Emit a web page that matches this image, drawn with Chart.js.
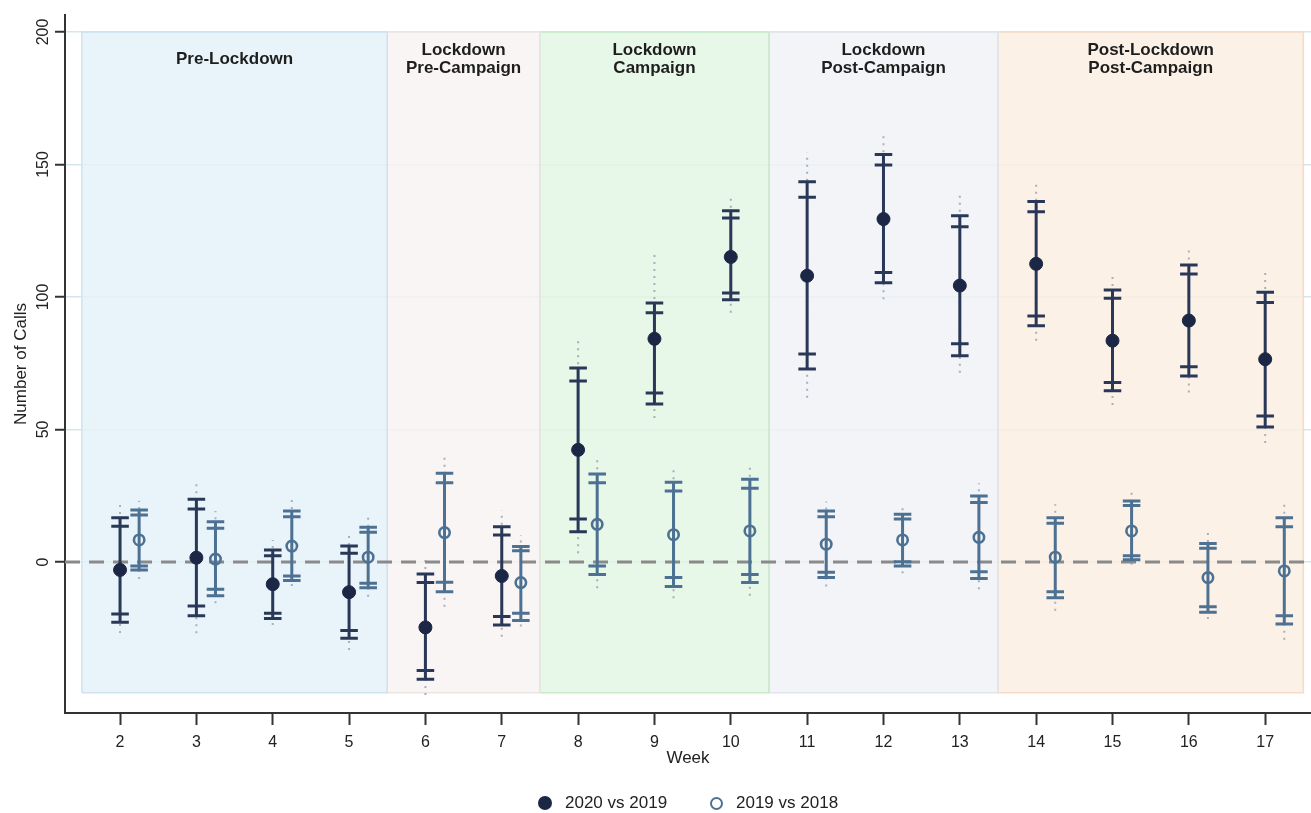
<!DOCTYPE html>
<html>
<head>
<meta charset="utf-8">
<script src="https://cdn.jsdelivr.net/npm/chart.js@4.4.1/dist/chart.umd.min.js"></script>
<style>
  html, body { margin: 0; padding: 0; background: #fff; }
  #wrap { position: relative; width: 1311px; height: 813px; }
  #legend { position: absolute; top: 792px; left: 0; width: 1311px; height: 22px;
            font: 17px "Liberation Sans", Arial, sans-serif; color: #222; }
  .item { position: absolute; top: 0; display: flex; align-items: center; height: 22px; }
  .dot { display: inline-block; box-sizing: border-box; border-radius: 50%; margin-right: 13px; }
</style>
</head>
<body>
<div id="wrap">
  <canvas id="chart" width="1311" height="813"></canvas>
  <div id="legend">
    <div class="item" style="left:538px"><span class="dot" style="width:14px;height:14px;background:#1b2745"></span>2020 vs 2019</div>
    <div class="item" style="left:710px"><span class="dot" style="width:13px;height:13px;border:2.5px solid #4d7193"></span>2019 vs 2018</div>
  </div>
</div>
<script>
// weeks on the x axis
const weeks = [2, 3, 4, 5, 6, 7, 8, 9, 10, 11, 12, 13, 14, 15, 16, 17];
const yTicks = [0, 50, 100, 150, 200];

// 2020 vs 2019 (filled markers)
const est2020 = [-3.0, 1.6, -8.4, -11.4, -24.7, -5.3, 42.3, 84.2, 115.1, 108.0, 129.4, 104.3, 112.5, 83.5, 91.1, 76.5];
const lo95_2020 = [-22.8, -20.3, -21.3, -28.8, -44.3, -23.8, 11.4, 59.6, 98.9, 72.8, 105.4, 77.8, 89.1, 64.6, 70.2, 50.9];
const hi95_2020 = [16.7, 23.7, 4.5, 6.0, -4.5, 13.3, 73.2, 97.7, 132.5, 143.5, 153.8, 130.6, 136.0, 102.6, 112.1, 101.8];
const lo90_2020 = [-19.6, -16.6, -19.4, -25.9, -41.0, -20.6, 16.2, 63.8, 101.5, 78.5, 109.2, 82.3, 92.8, 67.7, 73.7, 55.1];
const hi90_2020 = [13.5, 20.0, 2.3, 3.3, -7.8, 10.2, 68.3, 94.0, 129.8, 137.6, 149.8, 126.5, 132.2, 99.5, 108.7, 97.9];
const lo99_2020 = [-26.8, -26.9, -23.8, -33.2, -50.2, -28.2, 3.3, 54.3, 94.0, 62.0, 99.1, 71.4, 83.5, 59.2, 63.9, 44.9];
const hi99_2020 = [22.8, 30.3, 8.3, 11.4, 1.4, 19.4, 83.8, 116.6, 138.0, 154.5, 161.5, 138.7, 143.5, 108.7, 118.7, 109.8];

// 2019 vs 2018 (hollow markers)
const est2019 = [8.3, 1.1, 6.0, 1.8, 11.1, -7.8, 14.2, 10.3, 11.7, 6.7, 8.3, 9.3, 1.8, 11.7, -5.9, -3.4];
const lo95_2019 = [-3.0, -12.8, -7.0, -9.7, -11.2, -22.1, -4.7, -9.3, -7.8, -5.9, -1.5, -6.2, -13.5, 0.8, -19.0, -23.4];
const hi95_2019 = [19.6, 15.2, 19.2, 13.1, 33.5, 5.8, 33.2, 30.1, 31.2, 19.2, 18.0, 24.9, 16.7, 23.0, 7.0, 16.7];
const lo90_2019 = [-1.5, -10.3, -5.3, -8.0, -7.7, -19.4, -1.5, -5.9, -4.7, -3.9, 0.1, -3.7, -11.2, 2.3, -16.9, -20.3];
const hi90_2019 = [17.7, 12.7, 17.1, 11.2, 29.9, 4.2, 29.9, 26.8, 27.8, 17.1, 16.2, 22.4, 14.6, 21.3, 5.2, 13.3];
const lo99_2019 = [-6.4, -15.6, -9.1, -13.1, -16.9, -24.4, -9.9, -13.7, -12.8, -9.3, -4.3, -10.3, -18.4, -1.1, -21.5, -29.4];
const hi99_2019 = [23.1, 19.2, 23.4, 16.7, 40.4, 10.2, 38.9, 36.0, 37.2, 22.8, 20.3, 29.7, 21.8, 26.5, 11.4, 22.8];

// shaded periods
const regionNames = ['Pre-Lockdown', 'Lockdown\nPre-Campaign', 'Lockdown\nCampaign', 'Lockdown\nPost-Campaign', 'Post-Lockdown\nPost-Campaign'];
const regionStart = [1.5, 5.5, 7.5, 10.5, 13.5];
const regionEnd = [5.5, 7.5, 10.5, 13.5, 17.5];
const regionLow = -49.4;
const regionHigh = 200;

const regionFill = ['rgba(228,241,249,0.82)', 'rgba(246,243,242,0.82)', 'rgba(226,245,227,0.82)', 'rgba(239,242,245,0.82)', 'rgba(251,238,225,0.82)'];
const regionEdge = ['#cde4f0', '#ebe6e4', '#c8eac9', '#e0e6eb', '#f5dcc6'];

const navy = '#1b2745';
const navyLine = '#2a3858';
const steel = '#4d7193';
const dotGrey = 'rgba(140,146,165,0.7)';
const SHIFT = 0.25;   // hollow series sits to the right of the week
const CAP = 0.115;    // half width of a cap, in weeks

function vSegments(lo, hi, shift) {
    const pts = [];
    weeks.forEach((w, i) => {
        pts.push({x: w + shift, y: lo[i]}, {x: w + shift, y: hi[i]}, {x: w + shift, y: null});
    });
    return pts;
}

function capSegments(lists, shift) {
    const pts = [];
    lists.forEach(list => {
        weeks.forEach((w, i) => {
            pts.push({x: w + shift - CAP, y: list[i]}, {x: w + shift + CAP, y: list[i]}, {x: w + shift, y: null});
        });
    });
    return pts;
}

function lineSet(data, color, width, dash, order) {
    return {
        data: data, showLine: true, borderColor: color, borderWidth: width,
        borderDash: dash, pointRadius: 0, fill: false, spanGaps: false, order: order
    };
}

const datasets = [];

// markers
datasets.push({
    label: '2020 vs 2019',
    data: weeks.map((w, i) => ({x: w, y: est2020[i]})),
    pointRadius: 6.5, pointBackgroundColor: navy, pointBorderColor: navy, pointBorderWidth: 1,
    showLine: false, order: 1
});
datasets.push({
    label: '2019 vs 2018',
    data: weeks.map((w, i) => ({x: w + SHIFT, y: est2019[i]})),
    pointRadius: 5.2, pointBackgroundColor: 'rgba(0,0,0,0)', pointBorderColor: steel, pointBorderWidth: 2.6,
    showLine: false, order: 1
});

// caps
datasets.push(lineSet(capSegments([lo95_2020, hi95_2020, lo90_2020, hi90_2020], 0), navyLine, 3, [], 3));
datasets.push(lineSet(capSegments([lo95_2019, hi95_2019, lo90_2019, hi90_2019], SHIFT), steel, 3, [], 3));

// whiskers
datasets.push(lineSet(vSegments(lo95_2020, hi95_2020, 0), navyLine, 3, [], 4));
datasets.push(lineSet(vSegments(lo95_2019, hi95_2019, SHIFT), steel, 3, [], 4));

// dotted outer range
datasets.push(lineSet(vSegments(lo99_2020, hi99_2020, 0), dotGrey, 2, [2, 5], 5));
datasets.push(lineSet(vSegments(lo99_2019, hi99_2019, SHIFT), dotGrey, 2, [2, 5], 5));

// zero reference
const xMin = 1.279, xMax = 17.6;
datasets.push(lineSet([{x: xMin, y: 0}, {x: xMax, y: 0}], '#8a8a8a', 3, [15, 9], 6));

// shaded periods: fill + outline
regionNames.forEach((name, i) => {
    datasets.push({
        data: [{x: regionStart[i], y: regionHigh}, {x: regionEnd[i], y: regionHigh}],
        showLine: true, borderWidth: 0, pointRadius: 0,
        backgroundColor: regionFill[i], fill: {value: regionLow}, order: 9
    });
    datasets.push(lineSet([
        {x: regionStart[i], y: regionLow}, {x: regionStart[i], y: regionHigh},
        {x: regionEnd[i], y: regionHigh}, {x: regionEnd[i], y: regionLow},
        {x: regionStart[i], y: regionLow}
    ], regionEdge[i], 1.5, [], 8));
});

const regionLabels = {
    id: 'regionLabels',
    afterDatasetsDraw(chart) {
        const {ctx, chartArea, scales: {x}} = chart;
        ctx.save();
        ctx.font = 'bold 17px "Liberation Sans", Arial, sans-serif';
        ctx.fillStyle = '#1e1e1e';
        ctx.textAlign = 'center';
        ctx.textBaseline = 'middle';
        regionNames.forEach((name, i) => {
            const lines = name.split('\n');
            const cx = x.getPixelForValue((regionStart[i] + regionEnd[i]) / 2);
            const y0 = chartArea.top + 44 - (lines.length - 1) * 9;
            lines.forEach((t, j) => ctx.fillText(t, cx, y0 + j * 18));
        });
        ctx.restore();
    }
};

const font = '"Liberation Sans", Arial, sans-serif';

new Chart(document.getElementById('chart'), {
    type: 'scatter',
    data: {datasets: datasets},
    plugins: [regionLabels],
    options: {
        responsive: false,
        animation: false,
        events: [],
        layout: {autoPadding: false, padding: {top: 15, right: 0, bottom: 40, left: 0}},
        plugins: {legend: {display: false}, tooltip: {enabled: false}},
        scales: {
            x: {
                type: 'linear', min: xMin, max: xMax,
                afterBuildTicks: s => { s.ticks = weeks.map(v => ({value: v})); },
                afterFit: s => { s.height = 60; s.paddingLeft = 0; s.paddingRight = 0; },
                grid: {drawOnChartArea: false, tickLength: 12, tickColor: '#333', tickWidth: 2},
                border: {color: '#333', width: 2},
                ticks: {font: {family: font, size: 16}, color: '#222', padding: 8, maxRotation: 0, autoSkip: false},
                title: {display: true, text: 'Week', font: {family: font, size: 17}, color: '#222', padding: {top: 0, bottom: 4}}
            },
            y: {
                type: 'linear', min: -57, max: 206.4,
                afterBuildTicks: s => { s.ticks = yTicks.map(v => ({value: v})); },
                afterFit: s => { s.width = 65; s.paddingTop = 0; s.paddingBottom = 0; },
                grid: {color: '#d6e6ea', lineWidth: 1.5, tickLength: 10, tickColor: '#333', tickWidth: 2},
                border: {color: '#333', width: 2},
                ticks: {font: {family: font, size: 16}, color: '#222', padding: -2, minRotation: 90, maxRotation: 90, crossAlign: 'center'},
                title: {display: true, text: 'Number of Calls', font: {family: font, size: 17}, color: '#222', padding: {top: 11, bottom: 0}}
            }
        }
    }
});
</script>
</body>
</html>
